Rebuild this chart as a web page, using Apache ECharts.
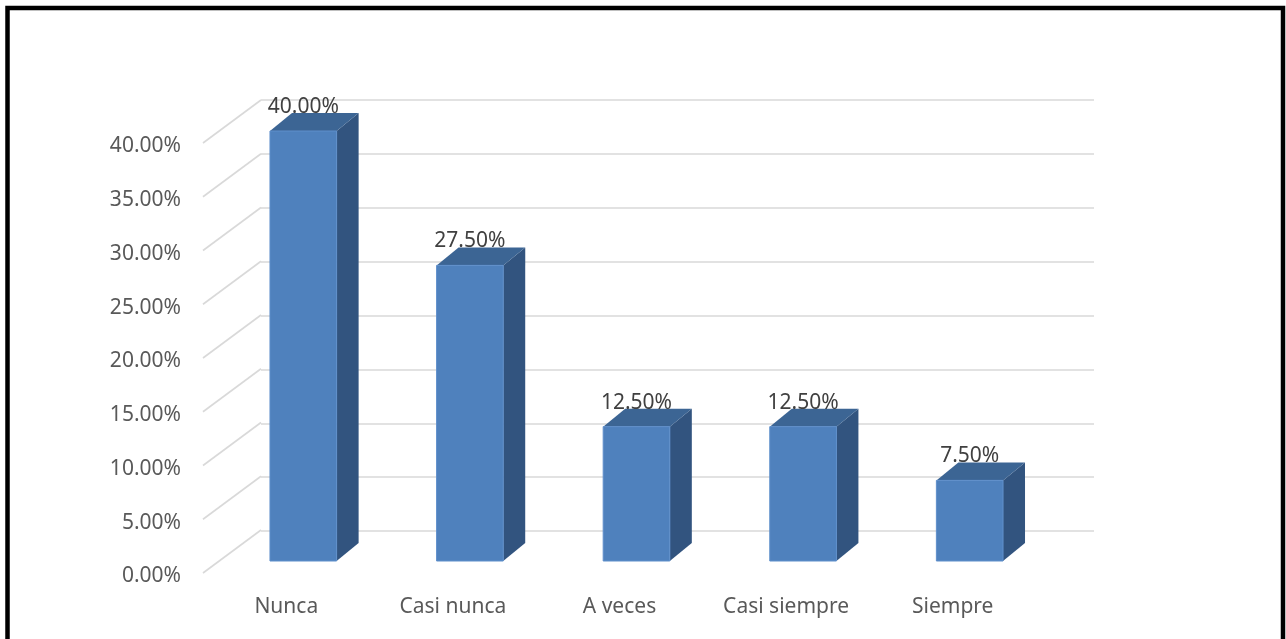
<!DOCTYPE html>
<html>
<head>
<meta charset="utf-8">
<script src="https://cdn.jsdelivr.net/npm/echarts@6/dist/echarts.min.js"></script>
<style>
  html, body { margin: 0; padding: 0; background: #ffffff; }
  #chart { width: 1286px; height: 639px; }
</style>
</head>
<body>
<div id="chart"></div>
<script>
const categories = ['Nunca', 'Casi nunca', 'A veces', 'Casi siempre', 'Siempre'];
const values = [40, 27.5, 12.5, 12.5, 7.5];
const tickValues = [0, 5, 10, 15, 20, 25, 30, 35, 40];

// style constants (pixels)
const DEPTH = [58, -43];      // front plane -> back wall
const FACE_OFF = [17, -12];   // front plane -> bar front face
const BAR_DEPTH = [22, -18];  // bar thickness
const FONT = '21px "Noto Sans"';

const chart = echarts.init(document.getElementById('chart'), null, { renderer: 'canvas' });

const fmt = v => v.toFixed(2) + '%';

const option = {
  backgroundColor: '#ffffff',
  animation: false,
  graphic: [{
    type: 'rect',
    shape: { x: 7.5, y: 8, width: 1275.5, height: 700 },
    style: { fill: 'none', stroke: '#000000', lineWidth: 4.5 },
    silent: true, z: 100
  }],
  grid: [
    { left: 203, right: 250, top: 143, bottom: 66 },
    { left: 261, right: 192, top: 100, bottom: 108 }
  ],
  xAxis: [
    {
      type: 'category', gridIndex: 0, data: categories,
      axisLine: { show: false }, axisTick: { show: false },
      axisLabel: { margin: 24, color: '#595959', fontFamily: 'Noto Sans', fontSize: 21 }
    },
    {
      type: 'category', gridIndex: 1, data: categories, show: false
    }
  ],
  yAxis: [
    {
      type: 'value', gridIndex: 0, min: 0, max: 40, interval: 5,
      axisLine: { show: false }, axisTick: { show: false },
      splitLine: { show: false },
      axisLabel: {
        margin: 22, color: '#595959', fontFamily: 'Noto Sans', fontSize: 21,
        formatter: v => '{a|' + fmt(v) + '}',
        rich: { a: { color: '#595959', fontFamily: 'Noto Sans', fontSize: 21, padding: [7, 0, 0, 0] } }
      }
    },
    {
      type: 'value', gridIndex: 1, min: 0, max: 40, interval: 5,
      axisLine: { show: false }, axisTick: { show: false },
      axisLabel: { show: false },
      splitLine: { show: true, lineStyle: { color: '#d9d9d9', width: 1.6 } }
    }
  ],
  series: [
    {
      type: 'custom', xAxisIndex: 0, yAxisIndex: 0, clip: false, z: 1,
      data: tickValues.map(v => [0, v]),
      renderItem: function (params, api) {
        const y = api.coord([0, api.value(1)])[1];
        const x = params.coordSys.x;
        return {
          type: 'line',
          shape: { x1: x, y1: y, x2: x + DEPTH[0], y2: y + DEPTH[1] },
          style: { stroke: '#d9d9d9', lineWidth: 1.6 },
          silent: true
        };
      }
    },
    {
      type: 'custom', xAxisIndex: 0, yAxisIndex: 0, clip: false, z: 5,
      data: values.map((v, i) => [i, v]),
      renderItem: function (params, api) {
        const i = api.value(0), v = api.value(1);
        const top = api.coord([i, v]);
        const base = api.coord([i, 0]);
        const w = api.size([1, 0])[0] * 0.4;
        const x0 = top[0] - w / 2 + FACE_OFF[0];
        const x1 = x0 + w;
        const yt = top[1] + FACE_OFF[1];
        const yb = base[1] + FACE_OFF[1];
        const dx = BAR_DEPTH[0], dy = BAR_DEPTH[1];
        return {
          type: 'group',
          children: [
            {
              type: 'polygon',
              shape: { points: [[x1, yt], [x1 + dx, yt + dy], [x1 + dx, yb + dy], [x1, yb]] },
              style: { fill: '#32547f' }
            },
            {
              type: 'polygon',
              shape: { points: [[x0, yt], [x1, yt], [x1 + dx, yt + dy], [x0 + dx, yt + dy]] },
              style: { fill: '#3c6594' }
            },
            {
              type: 'rect',
              shape: { x: x0, y: yt, width: w, height: yb - yt },
              style: { fill: '#4f81bd', stroke: '#5f8fcb', lineWidth: 1 }
            },
            {
              type: 'text',
              style: {
                text: fmt(v), x: x0 + w / 2, y: yt + dy - 6,
                align: 'center', verticalAlign: 'middle',
                font: FONT, fill: '#404040'
              }
            }
          ]
        };
      }
    }
  ]
};

chart.setOption(option);
</script>
</body>
</html>
